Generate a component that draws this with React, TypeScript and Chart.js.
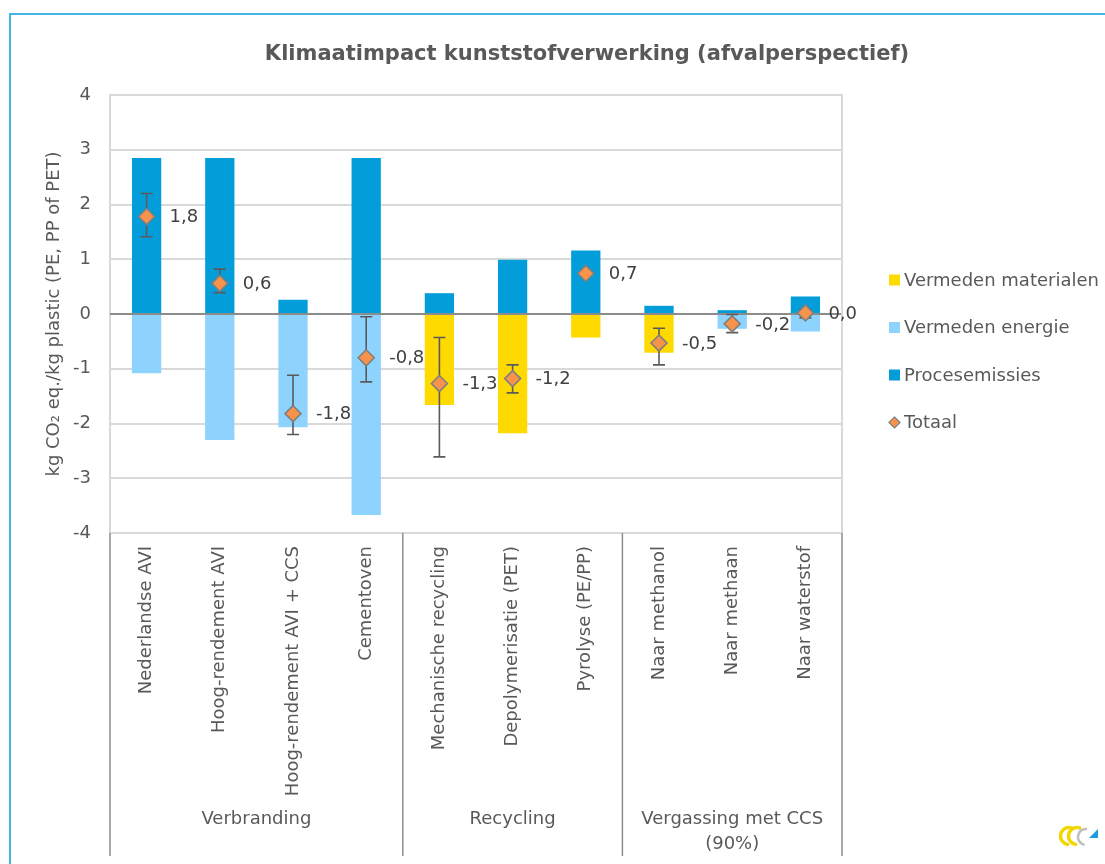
import React, { useEffect, useRef } from 'react';
import { Chart, registerables } from 'chart.js';

Chart.register(...registerables);

const FONT = '"DejaVu Sans", Verdana, sans-serif';

const chartTitle = 'Klimaatimpact kunststofverwerking (afvalperspectief)';
const yAxisTitle = 'kg CO\u2082 eq./kg plastic (PE, PP of PET)';

const categories = [
  'Nederlandse AVI',
  'Hoog-rendement AVI',
  'Hoog-rendement AVI + CCS',
  'Cementoven',
  'Mechanische recycling',
  'Depolymerisatie (PET)',
  'Pyrolyse (PE/PP)',
  'Naar methanol',
  'Naar methaan',
  'Naar waterstof',
];

const groupNames = [['Verbranding'], ['Recycling'], ['Vergassing met CCS', '(90%)']];
const groupSizes = [4, 3, 3];

const seriesNames = ['Vermeden materialen', 'Vermeden energie', 'Procesemissies', 'Totaal'];

const vermedenMaterialen = [0, 0, 0, 0, -1.66, -2.18, -0.43, -0.71, 0, 0];
const vermedenEnergie = [-1.08, -2.3, -2.07, -3.67, 0, 0, 0, 0, -0.27, -0.32];
const procesemissies = [2.85, 2.85, 0.26, 2.85, 0.38, 0.99, 1.16, 0.15, 0.07, 0.32];
const totaal = [1.78, 0.56, -1.82, -0.8, -1.27, -1.18, 0.74, -0.53, -0.18, 0.02];
const errLow = [1.41, 0.39, -2.2, -1.24, -2.61, -1.44, null, -0.93, -0.34, -0.07];
const errHigh = [2.2, 0.82, -1.12, -0.05, -0.43, -0.93, null, -0.26, -0.01, 0.08];

const yTicks = [-4, -3, -2, -1, 0, 1, 2, 3, 4];

const COLORS = {
  materialen: '#FFDA00',
  energie: '#8DD3FD',
  proces: '#039ED9',
  marker: '#F7934A',
  markerBorder: '#7F7F7F',
  text: '#595959',
  label: '#404040',
  grid: '#D9D9D9',
  zero: '#8C8C8C',
  sep: '#8C8C8C',
};

const fmt = (v: number) => v.toFixed(1).replace('.', ',');

const customPlugin = {
  id: 'customDraw',
  beforeDatasetDraw(chart: any, args: any) {
    if (args.index !== 3) return;
    const ctx = chart.ctx;
    const xs = chart.scales.x;
    const ys = chart.scales.y;
    const area = chart.chartArea;
    ctx.save();
    // zero line over bars
    const y0 = ys.getPixelForValue(0);
    ctx.strokeStyle = COLORS.zero;
    ctx.lineWidth = 2;
    ctx.beginPath();
    ctx.moveTo(area.left, y0);
    ctx.lineTo(area.right, y0);
    ctx.stroke();
    // error bars
    ctx.strokeStyle = '#5A5A5A';
    ctx.lineWidth = 1.6;
    errLow.forEach((lo, i) => {
      const hi = errHigh[i];
      if (lo == null || hi == null) return;
      const px = xs.getPixelForValue(i);
      const p1 = ys.getPixelForValue(lo);
      const p2 = ys.getPixelForValue(hi);
      ctx.beginPath();
      ctx.moveTo(px, p1);
      ctx.lineTo(px, p2);
      ctx.moveTo(px - 6, p1);
      ctx.lineTo(px + 6, p1);
      ctx.moveTo(px - 6, p2);
      ctx.lineTo(px + 6, p2);
      ctx.stroke();
    });
    ctx.restore();
  },
  afterDraw(chart: any) {
    const ctx = chart.ctx;
    const xs = chart.scales.x;
    const ys = chart.scales.y;
    const area = chart.chartArea;
    ctx.save();

    // right plot border
    ctx.strokeStyle = COLORS.grid;
    ctx.lineWidth = 2;
    ctx.beginPath();
    ctx.moveTo(area.right, area.top - 1);
    ctx.lineTo(area.right, area.bottom + 1);
    ctx.stroke();

    // title
    ctx.fillStyle = COLORS.text;
    ctx.font = `bold 21px ${FONT}`;
    ctx.textAlign = 'center';
    ctx.textBaseline = 'middle';
    ctx.fillText(chartTitle, 587, 55);

    // data labels for totals
    ctx.font = `18px ${FONT}`;
    ctx.fillStyle = COLORS.label;
    ctx.textAlign = 'left';
    ctx.textBaseline = 'middle';
    totaal.forEach((v, i) => {
      const px = xs.getPixelForValue(i);
      const py = ys.getPixelForValue(v);
      ctx.fillText(fmt(v), px + 23, py + 1);
    });

    // group separators and labels
    const bottom = area.bottom;
    const sepBottom = xs.bottom;
    const bounds: number[] = [area.left];
    let idx = 0;
    groupSizes.forEach((n, g) => {
      idx += n;
      if (g < groupSizes.length - 1) {
        bounds.push((xs.getPixelForValue(idx - 1) + xs.getPixelForValue(idx)) / 2);
      }
    });
    bounds.push(area.right);
    ctx.strokeStyle = COLORS.sep;
    ctx.lineWidth = 1.5;
    bounds.forEach((bx) => {
      ctx.beginPath();
      ctx.moveTo(bx, bottom);
      ctx.lineTo(bx, sepBottom);
      ctx.stroke();
    });
    ctx.fillStyle = COLORS.text;
    ctx.font = `18px ${FONT}`;
    ctx.textAlign = 'center';
    groupNames.forEach((lines, g) => {
      const cx = (bounds[g] + bounds[g + 1]) / 2;
      lines.forEach((ln, k) => {
        ctx.fillText(ln, cx, bottom + 286 + k * 25);
      });
    });

    // legend
    const lx = 889;
    const ly0 = 280;
    const dy = 47.5;
    ctx.textAlign = 'left';
    ctx.textBaseline = 'middle';
    chart.data.datasets.forEach((ds: any, i: number) => {
      const cy = ly0 + i * dy;
      if (ds.type === 'line') {
        ctx.beginPath();
        ctx.moveTo(lx + 5.5, cy - 5.5);
        ctx.lineTo(lx + 11, cy);
        ctx.lineTo(lx + 5.5, cy + 5.5);
        ctx.lineTo(lx, cy);
        ctx.closePath();
        ctx.fillStyle = COLORS.marker;
        ctx.fill();
        ctx.strokeStyle = COLORS.markerBorder;
        ctx.lineWidth = 1.2;
        ctx.stroke();
      } else {
        ctx.fillStyle = ds.backgroundColor;
        ctx.fillRect(lx, cy - 5.5, 11, 11);
      }
      ctx.fillStyle = COLORS.text;
      ctx.font = `18px ${FONT}`;
      ctx.fillText(ds.label, lx + 15, cy + 1);
    });

    // small logo
    ctx.lineCap = 'round';
    ctx.lineWidth = 3.5;
    ctx.strokeStyle = '#F2D600';
    ctx.beginPath();
    ctx.arc(1069, 836, 8.5, Math.PI * 0.55, Math.PI * 1.6);
    ctx.stroke();
    ctx.beginPath();
    ctx.arc(1077, 836, 8.5, Math.PI * 0.55, Math.PI * 1.6);
    ctx.stroke();
    ctx.strokeStyle = '#BDBDBD';
    ctx.lineWidth = 2.5;
    ctx.beginPath();
    ctx.arc(1086, 837, 8, Math.PI * 0.6, Math.PI * 1.5);
    ctx.stroke();
    ctx.fillStyle = '#1E9BE0';
    ctx.beginPath();
    ctx.moveTo(1098, 829);
    ctx.lineTo(1098, 838);
    ctx.lineTo(1089, 838);
    ctx.closePath();
    ctx.fill();

    ctx.restore();
  },
};

export default function App() {
  const canvasRef = useRef<HTMLCanvasElement | null>(null);

  useEffect(() => {
    const canvas = canvasRef.current;
    if (!canvas) return;
    const chart = new Chart(canvas, {
      type: 'bar',
      data: {
        labels: categories,
        datasets: [
          {
            type: 'bar',
            label: seriesNames[0],
            data: vermedenMaterialen,
            backgroundColor: COLORS.materialen,
            barPercentage: 0.4,
            categoryPercentage: 1,
            stack: 'main',
          },
          {
            type: 'bar',
            label: seriesNames[1],
            data: vermedenEnergie,
            backgroundColor: COLORS.energie,
            barPercentage: 0.4,
            categoryPercentage: 1,
            stack: 'main',
          },
          {
            type: 'bar',
            label: seriesNames[2],
            data: procesemissies,
            backgroundColor: COLORS.proces,
            barPercentage: 0.4,
            categoryPercentage: 1,
            stack: 'main',
          },
          {
            type: 'line',
            label: seriesNames[3],
            data: totaal,
            showLine: false,
            pointStyle: 'rectRot',
            pointRadius: 8,
            pointBackgroundColor: COLORS.marker,
            pointBorderColor: COLORS.markerBorder,
            pointBorderWidth: 1.6,
            backgroundColor: COLORS.marker,
            borderColor: COLORS.markerBorder,
            stack: 'totaal',
            order: -1,
            clip: false,
          } as any,
        ],
      },
      options: {
        responsive: false,
        animation: false,
        devicePixelRatio: 1,
        layout: { padding: { top: 95, right: 263, bottom: 8, left: 0 } },
        plugins: {
          legend: { display: false },
          title: { display: false },
          tooltip: { enabled: false },
        },
        scales: {
          x: {
            stacked: true,
            grid: { display: false, drawTicks: false },
            border: { display: false },
            ticks: {
              autoSkip: false,
              maxRotation: 90,
              minRotation: 90,
              padding: 13,
              color: COLORS.text,
              font: { family: FONT, size: 18 },
            },
            afterFit: (s: any) => {
              s.height = 323;
            },
          },
          y: {
            stacked: true,
            min: yTicks[0],
            max: yTicks[yTicks.length - 1],
            afterBuildTicks: (s: any) => {
              s.ticks = yTicks.map((v) => ({ value: v }));
            },
            ticks: {
              stepSize: 1,
              padding: 19,
              color: COLORS.text,
              font: { family: FONT, size: 18 },
            },
            grid: {
              color: (c: any) => (c.tick && c.tick.value === 0 ? COLORS.zero : COLORS.grid),
              lineWidth: 2,
              drawTicks: false,
            },
            border: { display: true, color: COLORS.grid, width: 2 },
            title: {
              display: true,
              text: yAxisTitle,
              color: COLORS.text,
              font: { family: FONT, size: 18 },
              padding: { top: 44, bottom: 0 },
            },
            afterFit: (s: any) => {
              s.width = 110;
            },
          },
        },
      },
      plugins: [customPlugin],
    });
    return () => chart.destroy();
  }, []);

  return (
    <div
      style={{
        position: 'fixed',
        left: 0,
        top: 0,
        width: 1105,
        height: 864,
        background: '#ffffff',
        overflow: 'hidden',
      }}
    >
      <div
        style={{
          position: 'absolute',
          left: 9,
          top: 13,
          width: 1200,
          height: 900,
          borderTop: '2px solid #41B6E6',
          borderLeft: '2px solid #41B6E6',
        }}
      />
      <canvas
        ref={canvasRef}
        width={1105}
        height={864}
        style={{ position: 'absolute', left: 0, top: 0, width: 1105, height: 864 }}
      />
    </div>
  );
}
